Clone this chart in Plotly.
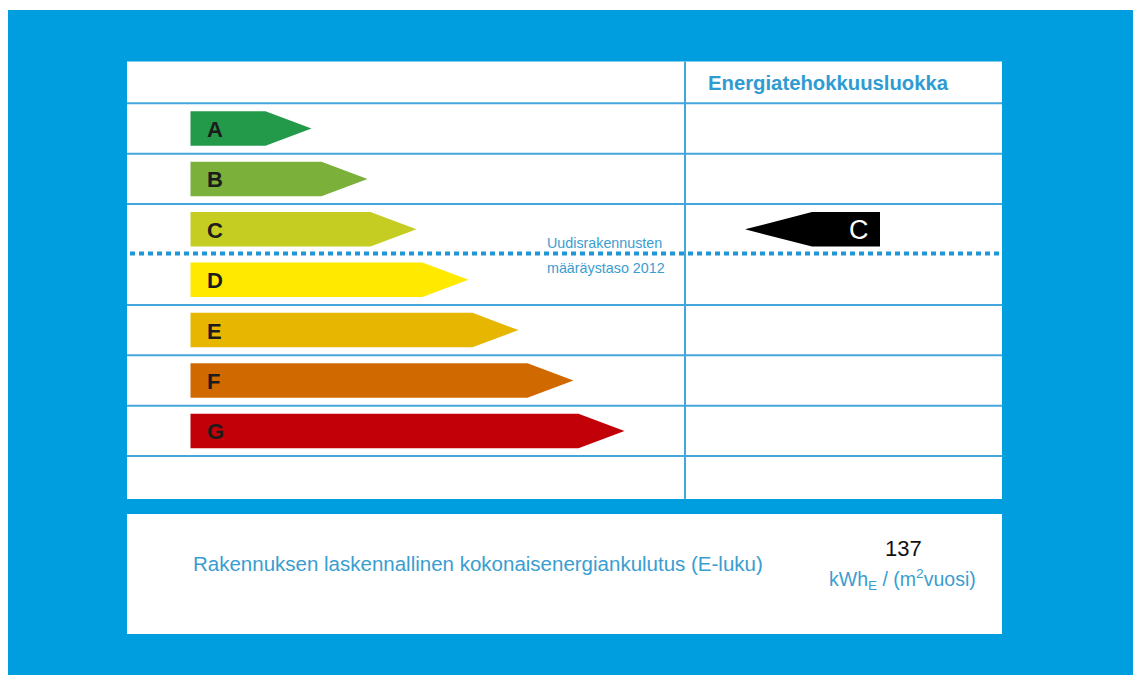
import plotly.graph_objects as go

# ---- data ----
classes = ["A", "B", "C", "D", "E", "F", "G"]
arrow_lengths = [121, 177, 226, 278, 328, 383, 434]
class_colors = ["#23994a", "#7bb03a", "#c6cd22", "#ffe900", "#e6b600", "#d06a00", "#c20008"]
current_class = "C"
e_value = 137
unit_text = "kWh<sub>E</sub> / (m<sup>2</sup>vuosi)"
header_text = "Energiatehokkuusluokka"
threshold_text = ["Uudisrakennusten", "määräystaso 2012"]
threshold_after_class = "C"
e_label = "Rakennuksen laskennallinen kokonaisenergiankulutus (E-luku)"

# ---- layout constants ----
W, H = 1133, 675
BLUE = "#009ddf"
LINE = "#45a6dc"
TXT_BLUE = "#3a9dd0"
FONT = "Liberation Sans, Arial, sans-serif"

panel_x0, panel_x1 = 127, 1002
panel_y0, panel_y1 = 61.5, 499
row_top = 103.3
row_h = 50.4
arrow_x0 = 190.5
arrow_h = 34.5
tip_len = 46
divider_x = 685

fig = go.Figure()

shapes = []
shapes.append(dict(type="rect", x0=8, x1=W + 20, y0=10, y1=H + 20, fillcolor=BLUE, line_width=0, layer="below"))
shapes.append(dict(type="rect", x0=panel_x0, x1=panel_x1, y0=panel_y0, y1=panel_y1, fillcolor="white", line_width=0, layer="below"))
shapes.append(dict(type="rect", x0=panel_x0, x1=panel_x1, y0=514, y1=634, fillcolor="white", line_width=0, layer="below"))

thr_idx = classes.index(threshold_after_class)
for i in range(len(classes) + 1):
    y = row_top + i * row_h
    if i == thr_idx + 1:
        continue
    shapes.append(dict(type="line", x0=panel_x0, x1=panel_x1, y0=y, y1=y, line=dict(color=LINE, width=2), layer="below"))
shapes.append(dict(type="line", x0=divider_x, x1=divider_x, y0=panel_y0, y1=panel_y1, line=dict(color=LINE, width=2), layer="below"))

for i, (c, L, col) in enumerate(zip(classes, arrow_lengths, class_colors)):
    yc = row_top + (i + 0.5) * row_h
    x_tip = arrow_x0 + L
    x_body = x_tip - tip_len
    xs = [arrow_x0, x_body, x_tip, x_body, arrow_x0, arrow_x0]
    ys = [yc - arrow_h / 2, yc - arrow_h / 2, yc, yc + arrow_h / 2, yc + arrow_h / 2, yc - arrow_h / 2]
    fig.add_trace(go.Scatter(x=xs, y=ys, mode="lines", fill="toself", fillcolor=col,
                             line=dict(width=0, color=col), hoverinfo="skip", showlegend=False))
    fig.add_annotation(x=arrow_x0 + 14, y=yc + 1, text=f"<b>{c}</b>", showarrow=False, xanchor="left",
                       yanchor="middle", font=dict(family=FONT, size=22, color="#1c1c1c"))

ci = classes.index(current_class)
yc = row_top + (ci + 0.5) * row_h
bx0, bx1, btip = 812, 880, 745
fig.add_trace(go.Scatter(x=[btip, bx0, bx1, bx1, bx0, btip], y=[yc, yc - arrow_h / 2, yc - arrow_h / 2, yc + arrow_h / 2, yc + arrow_h / 2, yc],
                         mode="lines", fill="toself", fillcolor="black", line=dict(width=0, color="black"),
                         hoverinfo="skip", showlegend=False))
fig.add_annotation(x=859, y=yc + 1, text=current_class, showarrow=False, xanchor="center", yanchor="middle",
                   font=dict(family=FONT, size=27, color="white"))

ythr = row_top + (thr_idx + 1) * row_h - 1
fig.add_trace(go.Scatter(x=[130, 1000], y=[ythr, ythr], mode="lines",
                         line=dict(color="#1f97d4", width=4, dash="5px,4px"), hoverinfo="skip", showlegend=False))
fig.add_annotation(x=545, y=ythr - 11, text=threshold_text[0], showarrow=False, xanchor="left", yanchor="middle",
                   font=dict(family=FONT, size=14.3, color=TXT_BLUE))
fig.add_annotation(x=545, y=ythr + 14, text=threshold_text[1], showarrow=False, xanchor="left", yanchor="middle",
                   font=dict(family=FONT, size=14.3, color=TXT_BLUE))

fig.add_annotation(x=706, y=83, text=f"<b>{header_text}</b>", showarrow=False, xanchor="left", yanchor="middle",
                   font=dict(family=FONT, size=20.3, color="#2f9bd3"))

fig.add_annotation(x=191, y=563, text=e_label, showarrow=False, xanchor="left", yanchor="middle",
                   font=dict(family=FONT, size=20.5, color=TXT_BLUE))
fig.add_annotation(x=903, y=548, text=str(e_value), showarrow=False, xanchor="center", yanchor="middle",
                   font=dict(family=FONT, size=22, color="#111111"))
fig.add_annotation(x=902, y=579, text=unit_text, showarrow=False, xanchor="center", yanchor="middle",
                   font=dict(family=FONT, size=19.5, color=TXT_BLUE))

fig.update_layout(
    width=W, height=H, margin=dict(l=0, r=0, t=0, b=0),
    paper_bgcolor="white", plot_bgcolor="white", shapes=shapes, showlegend=False,
    xaxis=dict(range=[0, W], visible=False, fixedrange=True),
    yaxis=dict(range=[H, 0], visible=False, fixedrange=True),
)

fig.write_html("out.html", config={"displayModeBar": False},
               post_script="document.body.style.margin='0';document.body.style.overflow='hidden';")
